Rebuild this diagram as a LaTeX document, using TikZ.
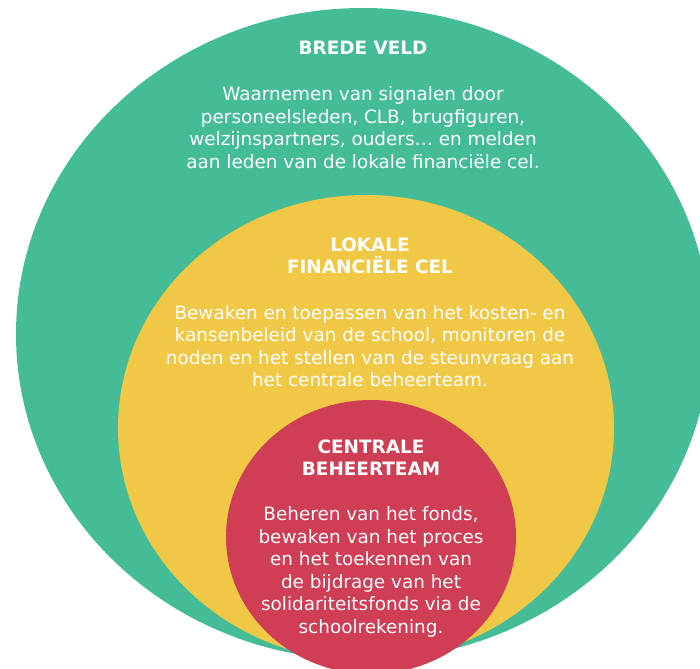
\documentclass[tikz,border=0pt]{standalone}
\usepackage{fontspec}
\setmainfont{DejaVu Sans}
\usetikzlibrary{positioning}
\definecolor{veldgroen}{RGB}{67,188,151}
\definecolor{celgeel}{RGB}{240,200,70}
\definecolor{teamrood}{RGB}{208,62,85}
\tikzset {
    kop/.style={text=white, align=center, inner sep=0pt,
        font=\bfseries\fontsize{18.4}{22.5}\selectfont},
    tekst/.style={text=white, align=center, inner sep=0pt,
        font=\fontsize{18.4}{22.5}\selectfont}
}

\begin{document}
\begin{tikzpicture}[x=1pt, y=-1pt]
    \useasboundingbox[fill=white] (0,0) rectangle (700,668);
    \clip (0,0) rectangle (700,668);

    % de drie cirkels
    \fill[veldgroen] (363,334) ellipse [x radius=347, y radius=326];
    \fill[celgeel] (366,428) ellipse [x radius=248, y radius=233];
    \fill[teamrood] (371,537) ellipse [x radius=145, y radius=137];

    \node[kop] (veld) at (363,48) {BREDE VELD};
    \node[tekst] (veldtekst) at (363,127.5) {Waarnemen van signalen door\\
        personeelsleden, CLB, brugfiguren,\\
        welzijnspartners, ouders\dots\ en melden\\
        aan leden van de lokale financiële cel.};

    \node[kop] (cel) at (370,256) {LOKALE\\FINANCIËLE CEL};
    \node[tekst] (celtekst) at (370,346) {Bewaken en toepassen van het kosten- en\\
        kansenbeleid van de school, monitoren de\\
        noden en het stellen van de steunvraag aan\\
        het centrale beheerteam.};

    \node[kop] (team) at (371,457.5) {CENTRALE\\BEHEERTEAM};
    \node[tekst] (teamtekst) at (371,571.7) {Beheren van het fonds,\\
        bewaken van het proces\\
        en het toekennen van\\
        de bijdrage van het\\
        solidariteitsfonds via de\\
        schoolrekening.};
\end{tikzpicture}
\end{document}
